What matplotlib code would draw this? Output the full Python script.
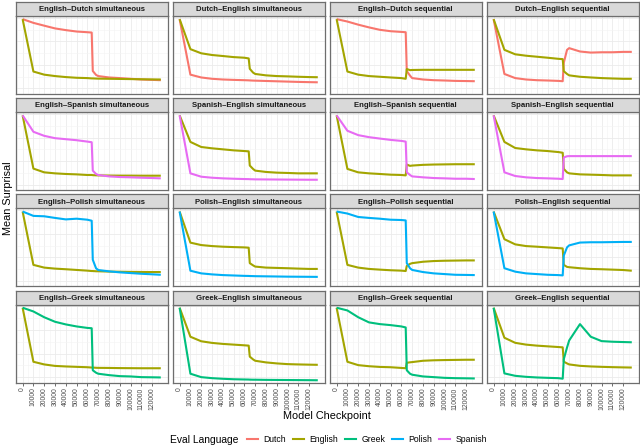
import numpy as np
import matplotlib
matplotlib.use("Agg")
import matplotlib.pyplot as plt
from matplotlib.lines import Line2D
from matplotlib.ticker import FixedLocator

plt.rcParams['font.family'] = ['Liberation Sans', 'DejaVu Sans']

# checkpoints shared by every run
checkpoints = [0, 10000, 20000, 30000, 40000, 50000, 60000, 64000, 65000, 68000,
               70000, 80000, 90000, 100000, 110000, 120000, 128000]
tick_labels = [str(v) for v in range(0, 130000, 10000)]

languages = ['Dutch', 'English', 'Greek', 'Polish', 'Spanish']
lang_colors = ['#F8766D', '#A3A500', '#00BF7D', '#00B0F6', '#E76BF3']

# mean surprisal per run
en_nl_sim_dutch = [9.6, 9.12, 8.76, 8.41, 8.19, 8.01, 7.92, 7.88, 2.95, 2.45, 2.30, 2.12, 2.04, 1.95, 1.86, 1.81, 1.77]
en_nl_sim_english = [9.6, 2.88, 2.48, 2.30, 2.17, 2.08, 2.04, 2.00, 2.00, 1.98, 1.97, 1.95, 1.93, 1.91, 1.89, 1.87, 1.86]
nl_en_sim_english = [9.6, 5.75, 5.22, 5.00, 4.87, 4.73, 4.65, 4.56, 3.23, 2.75, 2.57, 2.39, 2.30, 2.26, 2.21, 2.17, 2.15]
nl_en_sim_dutch = [9.6, 2.48, 2.12, 1.95, 1.86, 1.81, 1.77, 1.75, 1.74, 1.72, 1.71, 1.67, 1.63, 1.59, 1.55, 1.52, 1.50]
en_nl_seq_dutch = [9.6, 9.29, 8.89, 8.54, 8.23, 8.05, 7.96, 7.92, 2.95, 2.35, 2.04, 1.86, 1.77, 1.73, 1.68, 1.66, 1.64]
en_nl_seq_english = [9.6, 2.88, 2.48, 2.30, 2.21, 2.12, 2.04, 1.95, 3.20, 3.06, 3.08, 3.10, 3.10, 3.10, 3.10, 3.10, 3.10]
nl_en_seq_english = [9.6, 5.66, 5.09, 4.91, 4.78, 4.65, 4.51, 4.47, 2.92, 2.57, 2.39, 2.21, 2.12, 2.04, 1.99, 1.95, 1.95]
nl_en_seq_dutch = [9.6, 2.57, 2.04, 1.86, 1.77, 1.73, 1.68, 1.64, 4.00, 5.66, 5.88, 5.45, 5.31, 5.35, 5.35, 5.40, 5.40]

en_es_sim_spanish = [9.6, 7.49, 6.97, 6.67, 6.54, 6.41, 6.23, 6.15, 2.51, 2.08, 1.95, 1.77, 1.69, 1.65, 1.60, 1.56, 1.52]
en_es_sim_english = [9.6, 2.77, 2.29, 2.16, 2.08, 2.03, 1.95, 1.95, 1.93, 1.91, 1.90, 1.88, 1.87, 1.87, 1.86, 1.86, 1.86]
es_en_sim_english = [9.6, 6.19, 5.54, 5.37, 5.24, 5.11, 5.02, 4.98, 3.16, 2.73, 2.51, 2.34, 2.25, 2.21, 2.16, 2.16, 2.16]
es_en_sim_spanish = [9.6, 2.16, 1.73, 1.60, 1.52, 1.47, 1.43, 1.42, 1.41, 1.40, 1.39, 1.38, 1.37, 1.36, 1.35, 1.34, 1.34]
en_es_seq_spanish = [9.6, 7.62, 7.06, 6.80, 6.62, 6.45, 6.32, 6.23, 2.29, 1.95, 1.77, 1.65, 1.56, 1.52, 1.47, 1.47, 1.43]
en_es_seq_english = [9.6, 2.73, 2.29, 2.16, 2.08, 1.99, 1.95, 1.90, 3.29, 3.12, 3.16, 3.25, 3.29, 3.31, 3.33, 3.33, 3.33]
es_en_seq_english = [9.6, 6.19, 5.41, 5.24, 5.11, 5.02, 4.89, 4.80, 2.73, 2.29, 2.16, 2.03, 1.99, 1.95, 1.90, 1.90, 1.90]
es_en_seq_spanish = [9.6, 2.29, 1.82, 1.65, 1.56, 1.52, 1.47, 1.43, 4.20, 4.35, 4.37, 4.37, 4.37, 4.37, 4.37, 4.37, 4.37]

en_pl_sim_polish = [9.6, 9.04, 8.99, 8.78, 8.59, 8.68, 8.55, 8.42, 3.42, 2.33, 2.10, 1.93, 1.80, 1.71, 1.62, 1.55, 1.49]
en_pl_sim_english = [9.6, 2.76, 2.41, 2.28, 2.20, 2.11, 2.02, 1.97, 1.97, 1.94, 1.94, 1.90, 1.88, 1.86, 1.85, 1.84, 1.84]
pl_en_sim_english = [9.6, 5.61, 5.30, 5.17, 5.09, 5.04, 5.00, 4.96, 2.98, 2.70, 2.54, 2.41, 2.37, 2.33, 2.28, 2.24, 2.24]
pl_en_sim_polish = [9.6, 2.01, 1.67, 1.54, 1.45, 1.40, 1.35, 1.34, 1.33, 1.32, 1.31, 1.29, 1.27, 1.25, 1.24, 1.23, 1.22]
en_pl_seq_polish = [9.6, 9.34, 8.90, 8.78, 8.68, 8.55, 8.51, 8.46, 2.98, 2.33, 2.11, 1.84, 1.67, 1.58, 1.49, 1.47, 1.45]
en_pl_seq_english = [9.6, 2.76, 2.41, 2.24, 2.15, 2.07, 2.02, 1.97, 2.63, 2.89, 2.98, 3.16, 3.25, 3.29, 3.31, 3.33, 3.33]
pl_en_seq_english = [9.6, 6.05, 5.39, 5.17, 5.09, 5.00, 4.91, 4.87, 2.76, 2.50, 2.46, 2.33, 2.24, 2.20, 2.15, 2.10, 2.01]
pl_en_seq_polish = [9.6, 2.33, 1.89, 1.67, 1.58, 1.49, 1.45, 1.41, 3.95, 5.00, 5.26, 5.62, 5.66, 5.66, 5.68, 5.70, 5.70]

en_el_sim_greek = [9.6, 9.12, 8.38, 7.80, 7.46, 7.20, 7.01, 6.97, 1.58, 1.27, 1.14, 0.96, 0.83, 0.79, 0.70, 0.68, 0.66]
en_el_sim_english = [9.6, 2.67, 2.33, 2.14, 2.07, 2.02, 1.97, 1.93, 1.93, 1.90, 1.89, 1.88, 1.86, 1.85, 1.84, 1.84, 1.84]
el_en_sim_english = [9.6, 5.88, 5.30, 5.09, 4.96, 4.87, 4.78, 4.74, 3.33, 2.98, 2.80, 2.59, 2.46, 2.37, 2.33, 2.30, 2.28]
el_en_sim_greek = [9.6, 1.14, 0.70, 0.57, 0.49, 0.43, 0.40, 0.39, 0.38, 0.37, 0.37, 0.35, 0.34, 0.33, 0.32, 0.31, 0.30]
en_el_seq_greek = [9.6, 9.25, 8.38, 7.72, 7.50, 7.37, 7.20, 7.07, 1.58, 1.14, 1.01, 0.79, 0.70, 0.61, 0.57, 0.55, 0.53]
en_el_seq_english = [9.6, 2.67, 2.24, 2.10, 2.01, 1.97, 1.88, 1.84, 2.54, 2.60, 2.63, 2.80, 2.86, 2.89, 2.91, 2.93, 2.93]
el_en_seq_english = [9.6, 5.75, 5.10, 4.87, 4.74, 4.65, 4.56, 4.52, 2.68, 2.46, 2.33, 2.15, 2.07, 2.02, 1.98, 1.95, 1.93]
el_en_seq_greek = [9.6, 1.18, 0.87, 0.74, 0.66, 0.61, 0.57, 0.50, 3.00, 4.50, 5.40, 7.50, 5.88, 5.32, 5.24, 5.20, 5.17]

panels = [
    ('English–Dutch simultaneous', {'Dutch': en_nl_sim_dutch, 'English': en_nl_sim_english}),
    ('Dutch–English simultaneous', {'Dutch': nl_en_sim_dutch, 'English': nl_en_sim_english}),
    ('English–Dutch sequential', {'Dutch': en_nl_seq_dutch, 'English': en_nl_seq_english}),
    ('Dutch–English sequential', {'Dutch': nl_en_seq_dutch, 'English': nl_en_seq_english}),
    ('English–Spanish simultaneous', {'English': en_es_sim_english, 'Spanish': en_es_sim_spanish}),
    ('Spanish–English simultaneous', {'English': es_en_sim_english, 'Spanish': es_en_sim_spanish}),
    ('English–Spanish sequential', {'English': en_es_seq_english, 'Spanish': en_es_seq_spanish}),
    ('Spanish–English sequential', {'English': es_en_seq_english, 'Spanish': es_en_seq_spanish}),
    ('English–Polish simultaneous', {'English': en_pl_sim_english, 'Polish': en_pl_sim_polish}),
    ('Polish–English simultaneous', {'English': pl_en_sim_english, 'Polish': pl_en_sim_polish}),
    ('English–Polish sequential', {'English': en_pl_seq_english, 'Polish': en_pl_seq_polish}),
    ('Polish–English sequential', {'English': pl_en_seq_english, 'Polish': pl_en_seq_polish}),
    ('English–Greek simultaneous', {'English': en_el_sim_english, 'Greek': en_el_sim_greek}),
    ('Greek–English simultaneous', {'English': el_en_sim_english, 'Greek': el_en_sim_greek}),
    ('English–Greek sequential', {'English': en_el_seq_english, 'Greek': en_el_seq_greek}),
    ('Greek–English sequential', {'English': el_en_seq_english, 'Greek': el_en_seq_greek}),
]

W, H = 640, 446
fig = plt.figure(figsize=(W / 100, H / 100), dpi=100)

border = '#6E6E6E'
for i, (title, series) in enumerate(panels):
    row, col = divmod(i, 4)
    left = 15.7 + 157 * col
    strip_top = 2 + 96.2 * row
    ax = fig.add_axes([left / W, 1 - (strip_top + 14 + 78) / H, 152 / W, 78 / H])
    sax = fig.add_axes([left / W, 1 - (strip_top + 14) / H, 152 / W, 14 / H])

    # strip
    sax.set_facecolor('#D9D9D9')
    sax.set_xticks([])
    sax.set_yticks([])
    for sp in sax.spines.values():
        sp.set_color(border)
        sp.set_linewidth(0.9)
    sax.text(0.5, 0.45, title, ha='center', va='center', fontsize=5.6,
             fontweight='bold', color='#1A1A1A', transform=sax.transAxes)

    # lines, drawn in legend order
    for lang, color in zip(languages, lang_colors):
        if lang in series:
            ax.plot(checkpoints, series[lang], color=color, lw=1.5, solid_capstyle='butt')

    ax.set_xlim(-6400, 134400)
    ax.set_ylim(0, 10)
    ax.xaxis.set_major_locator(FixedLocator(np.arange(0, 130000, 10000)))
    ax.xaxis.set_minor_locator(FixedLocator(np.arange(-5000, 135000, 10000)))
    ax.yaxis.set_major_locator(FixedLocator([0.71, 3.73, 6.75, 9.77]))
    ax.yaxis.set_minor_locator(FixedLocator([2.22, 5.24, 8.26]))
    ax.grid(which='major', color='#EBEBEB', lw=0.6)
    ax.grid(which='minor', color='#F4F4F4', lw=0.4)
    ax.set_axisbelow(True)
    ax.tick_params(axis='y', which='both', left=False, labelleft=False)
    ax.tick_params(axis='x', which='minor', bottom=False)
    for sp in ax.spines.values():
        sp.set_color(border)
        sp.set_linewidth(0.9)

    if row == 3:
        ax.set_xticklabels(tick_labels, rotation=90, fontsize=4.9, color='#4D4D4D')
        ax.tick_params(axis='x', which='major', length=2, width=0.5, color='#333333', pad=1.5)
    else:
        ax.tick_params(axis='x', which='major', bottom=False, labelbottom=False)

fig.text(8 / W, 1 - 198 / H, 'Mean Surprisal', rotation=90, ha='center', va='center', fontsize=7.8)
fig.text(327 / W, 1 - 416 / H, 'Model Checkpoint', ha='center', va='center', fontsize=7.8)

# legend
fig.text(170 / W, 1 - 440 / H, 'Eval Language', ha='left', va='center', fontsize=7.4)
handles = [Line2D([], [], color=c, lw=1.5) for c in lang_colors]
fig.legend(handles, languages, ncol=5, loc='center left', bbox_to_anchor=(247 / W, 1 - 440 / H),
           frameon=False, fontsize=6.2, handlelength=1.3, handletextpad=0.6,
           columnspacing=0.8, borderpad=0, borderaxespad=0)

fig.savefig('out.png', dpi=100)
